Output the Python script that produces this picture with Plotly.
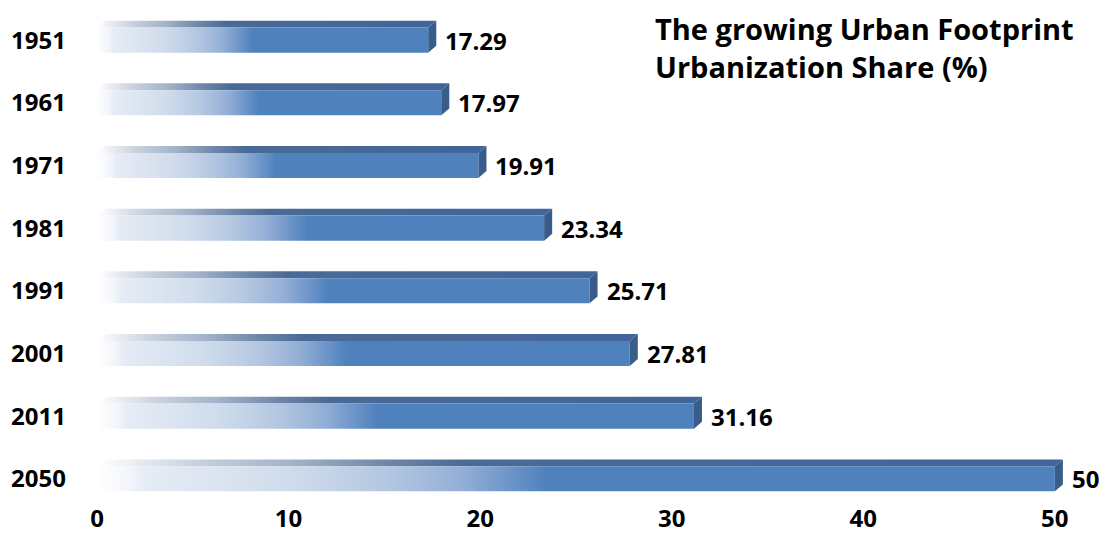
import plotly.graph_objects as go

years = ["1951", "1961", "1971", "1981", "1991", "2001", "2011", "2050"]
shares = [17.29, 17.97, 19.91, 23.34, 25.71, 27.81, 31.16, 50]
value_labels = ["17.29", "17.97", "19.91", "23.34", "25.71", "27.81", "31.16", "50"]
x_ticks = [0, 10, 20, 30, 40, 50]
title_text = "The growing Urban Footprint<br>Urbanization Share (%)"

FONT = "Open Sans"
H = 0.40   # front face height (category units)
DY = 0.11  # depth (vertical)
DX = 0.42  # depth (horizontal, value units)

front_cs = [[0, "#ffffff"], [0.035, "#f2f5fa"], [0.05, "#e6ecf5"], [0.2, "#d0dcec"],
            [0.3, "#b5c8e2"], [0.38, "#93afd6"], [0.44, "#6690c6"], [0.47, "#4f81bd"],
            [1, "#4f81bd"]]
top_cs = [[0, "#ffffff"], [0.03, "#eef1f5"], [0.1, "#c9d2de"], [0.2, "#a3b3c9"],
          [0.3, "#6e87a8"], [0.38, "#4a6a96"], [1, "#41659a"]]
side_color = "#395d8b"

fig = go.Figure()
for i, v in enumerate(shares):
    top = i - H / 2
    bot = i + H / 2
    # top face
    fig.add_trace(go.Scatter(
        x=[0, v, v + DX, DX, 0], y=[top, top, top - DY, top - DY, top],
        mode="lines", line=dict(width=0), fill="toself",
        fillgradient=dict(type="horizontal", colorscale=top_cs, start=0, stop=v + DX),
        hoverinfo="skip", showlegend=False))
    # front face
    fig.add_trace(go.Scatter(
        x=[0, v, v, 0, 0], y=[top, top, bot, bot, top],
        mode="lines", line=dict(width=0), fill="toself",
        fillgradient=dict(type="horizontal", colorscale=front_cs, start=0, stop=v),
        hoverinfo="skip", showlegend=False))
    # side face
    fig.add_trace(go.Scatter(
        x=[v, v + DX, v + DX, v, v], y=[top, top - DY, bot - DY, bot, top],
        mode="lines", line=dict(width=0), fill="toself", fillcolor=side_color,
        hoverinfo="skip", showlegend=False))
    fig.add_annotation(x=v, y=i, text=value_labels[i], showarrow=False,
                       xanchor="left", xshift=15,
                       font=dict(family=FONT, size=24, color="#000000", weight="bold"))

fig.add_annotation(xref="paper", yref="paper", x=0.569, y=1.0, xanchor="left", yanchor="top",
                   yshift=-7, text=title_text, showarrow=False, align="left",
                   font=dict(family=FONT, size=29, color="#000000", weight="bold"))

fig.update_layout(
    width=1102, height=551,
    margin=dict(l=97, r=28, t=0, b=49),
    paper_bgcolor="white", plot_bgcolor="white",
    xaxis=dict(range=[0, 51], tickvals=x_ticks, ticktext=[str(t) for t in x_ticks],
               showgrid=False, zeroline=False, showline=False, fixedrange=True,
               tickfont=dict(family=FONT, size=24, color="#000000", weight="bold")),
    yaxis=dict(range=[7.37, -0.64], tickvals=list(range(len(years))), ticktext=years,
               showgrid=False, zeroline=False, showline=False, fixedrange=True,
               ticklabelstandoff=30,
               tickfont=dict(family=FONT, size=24, color="#000000", weight="bold")),
)

fig.write_html("out.html", config={"displayModeBar": False},
               post_script="document.body.style.margin='0';document.body.style.overflow='hidden';")
